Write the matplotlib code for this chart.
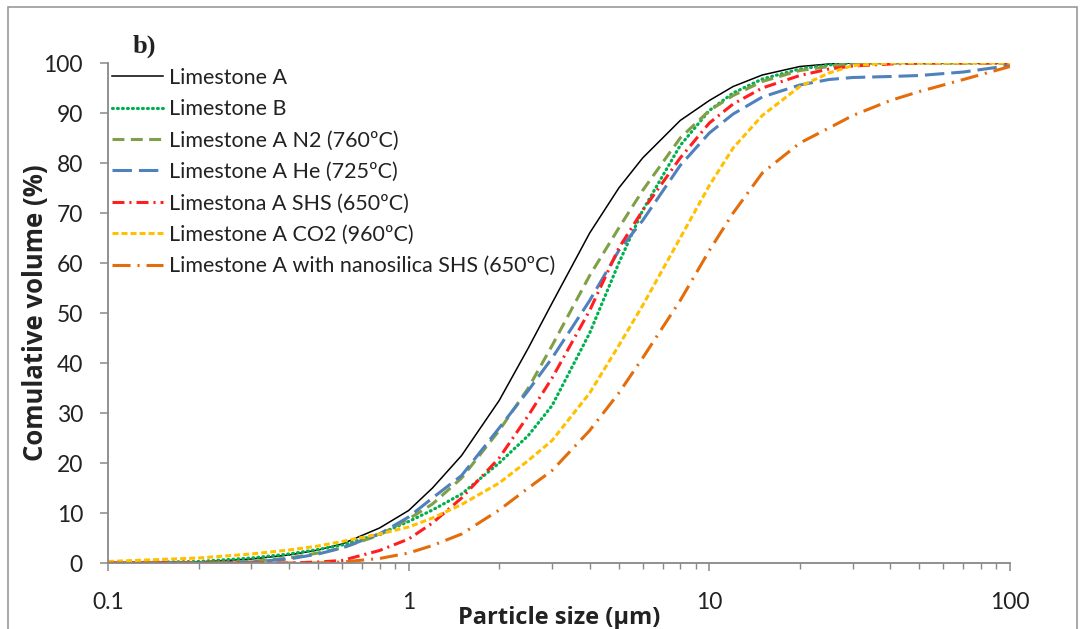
import matplotlib
matplotlib.use("Agg")
import matplotlib.pyplot as plt
from matplotlib.patches import Rectangle
from matplotlib.ticker import LogLocator, FixedLocator, NullFormatter

plt.rcParams['font.family'] = ['Lato', 'DejaVu Sans']
plt.rcParams['lines.scale_dashes'] = False

# particle sizes (µm)
size = [0.1, 0.2, 0.3, 0.4, 0.5, 0.6, 0.8, 1, 1.2, 1.5, 2, 2.5, 3, 4, 5, 6, 8,
        10, 12, 15, 20, 25, 30, 40, 50, 70, 100]

lime_a = [0, 0.2, 0.8, 1.6, 2.6, 3.8, 7, 10.5, 15, 21.5, 32.5, 43, 52, 66, 75, 81, 88.5,
          92.5, 95.3, 97.6, 99.3, 99.8, 100, 100, 100, 100, 100]
lime_b = [0, 0.3, 1.0, 1.8, 2.7, 3.6, 5.8, 8.3, 10.6, 13.8, 20, 25.5, 31.5, 46, 60, 70.5, 83.5,
          90.5, 94, 96.8, 98.8, 99.6, 100, 100, 100, 100, 100]
lime_n2 = [0, 0, 0.3, 1.0, 2.0, 3.0, 5.6, 8.8, 11.8, 17, 26.5, 35, 43.5, 57.5, 67, 74.5, 85,
           90.5, 93.5, 96.3, 98.5, 99.3, 100, 100, 100, 100, 100]
lime_he = [0, 0, 0.2, 0.8, 1.8, 3.0, 5.8, 9.2, 13, 17.5, 27, 34.5, 41, 52.5, 62.5, 68.5, 79.5,
           86, 89.8, 93.2, 95.6, 96.7, 97.1, 97.3, 97.5, 98.2, 99.5]
lime_shs = [0, 0, 0, 0, 0.2, 0.5, 2.5, 4.8, 8, 13, 21, 29.5, 37, 50.5, 63, 70.5, 81,
            88, 91.8, 95, 97.5, 98.8, 99.4, 99.8, 100, 100, 100]
lime_co2 = [0.3, 1.0, 1.8, 2.6, 3.4, 4.3, 5.8, 7.2, 9, 11.7, 16, 20.5, 24.5, 34, 43.5, 51.5, 65,
            75.5, 83, 89.5, 95.3, 98, 99.5, 100, 100, 100, 100]
lime_nano = [0, 0, 0, 0, 0, 0.2, 0.9, 2, 3.5, 5.8, 10.6, 15, 18.5, 26.5, 34, 41, 52.5,
             62.5, 70, 78, 84, 87, 89.5, 92.5, 94.3, 96.7, 99.3]

labels = ["Limestone A", "Limestone B", "Limestone A N2 (760ºC)", "Limestone A He (725ºC)",
          "Limestona A SHS (650ºC)", "Limestone A CO2 (960ºC)",
          "Limestone A with nanosilica SHS (650ºC)"]
series = [lime_a, lime_b, lime_n2, lime_he, lime_shs, lime_co2, lime_nano]
colors = ["#000000", "#00B050", "#7FA046", "#4F81BD", "#FF1F1F", "#FFC000", "#E46C0A"]
widths = [1.1, 2.3, 2.2, 2.2, 2.2, 2.2, 2.2]
dashes = [None, (0.6, 3.0), (8.6, 4.6), (14.0, 5.0), (8.6, 3.6, 1.5, 3.6), (4.3, 2.2),
          (13.0, 5.0, 1.5, 5.0)]

fig = plt.figure(figsize=(10.85, 6.29), dpi=100)
ax = fig.add_axes([108 / 1085, 66 / 629, 902 / 1085, 500 / 629])

for i, (y, lab, c, w, d) in enumerate(zip(series, labels, colors, widths, dashes)):
    line, = ax.plot(size, y, color=c, lw=w, label=lab)
    if d is not None:
        line.set_dashes(d)
    if i == 1:
        line.set_dash_capstyle('round')

ax.set_xscale('log')
ax.set_xlim(0.1, 100)
ax.set_ylim(0, 100)
ax.set_yticks(range(0, 101, 10))
ax.xaxis.set_major_locator(FixedLocator([0.1, 1, 10, 100]))
ax.xaxis.set_minor_locator(LogLocator(base=10, subs=range(2, 10)))
ax.xaxis.set_minor_formatter(NullFormatter())
ax.set_xticklabels(["0.1", "1", "10", "100"])

for s in ['top', 'right']:
    ax.spines[s].set_visible(False)
for s in ['left', 'bottom']:
    ax.spines[s].set_color('#888888')
    ax.spines[s].set_linewidth(1.3)

ax.tick_params(axis='y', which='major', length=6, width=1.1, color='#888888',
               labelsize=16.5, pad=12, labelcolor='#222222')
ax.tick_params(axis='x', which='major', length=6, width=1.1, color='#888888',
               labelsize=16.5, pad=15, labelcolor='#222222')
ax.tick_params(axis='x', which='minor', length=4, width=1.0, color='#888888')

ax.set_xlabel("Particle size (µm)", fontsize=17, fontweight='bold', labelpad=-5,
              color='#222222', family=['Open Sans', 'DejaVu Sans'])
ax.set_ylabel("Comulative volume (%)", fontsize=18.5,
              fontweight='bold', labelpad=-4, color='#222222',
              family=['Open Sans', 'DejaVu Sans'])

leg = ax.legend(loc='upper left', bbox_to_anchor=(0.0, 0.999), frameon=False,
                fontsize=15.5, handlelength=2.35, handletextpad=0.3, labelspacing=0.53,
                borderaxespad=0.0, borderpad=0.2)
for t in leg.get_texts():
    t.set_color('#222222')

fig.text(133 / 1085, 1 - 46 / 629, "b)", fontsize=19, fontweight='bold',
         family='Liberation Serif', va='center', ha='left', color='#222222')

fig.patches.append(Rectangle((8 / 1085, -0.1), 1069 / 1085, 1.1 - 7 / 629,
                             transform=fig.transFigure, fill=False,
                             edgecolor='#999999', lw=1.2))

fig.savefig("out.png", dpi=100)
